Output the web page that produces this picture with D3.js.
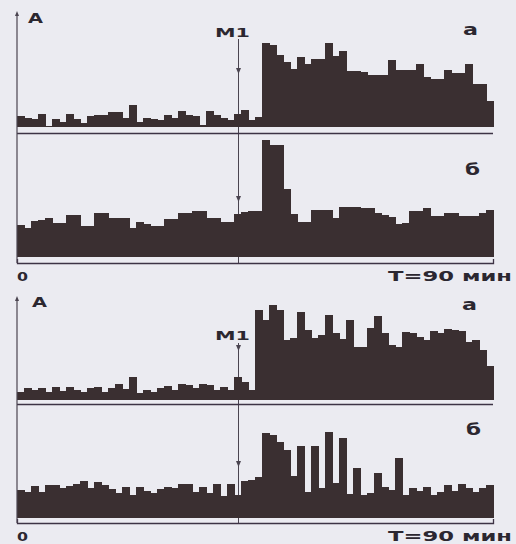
<!DOCTYPE html>
<html>
<head>
<meta charset="utf-8">
<script src="https://cdn.jsdelivr.net/npm/d3@7"></script>
<style>
  html, body { margin: 0; padding: 0; background: #ebebf1; }
  svg { display: block; }
</style>
</head>
<body>
<div id="chart"></div>
<script>
// Length of every record, minutes
const totalMinutes = 90;
// Time of the M1 event, minutes
const markerMinute = 41.7;

// Upper figure, trace "а" (counts per channel)
const fig1A = [11, 9, 8, 13, 1.5, 8, 5, 13, 8, 4, 11, 12, 12, 15, 15, 9, 22, 5, 9, 8,
  7, 12, 9, 16, 12, 11, 2, 16, 12, 9, 7, 13, 17, 7, 10,
  84, 82, 72, 65, 58, 70, 63, 68, 68, 84, 71, 76, 56, 56, 55, 52, 52, 52, 67, 57,
  57, 57, 63, 50, 48, 48, 57, 54, 54, 63, 43, 43, 26];
// Upper figure, trace "б"
const fig1B = [32, 29, 36, 37, 39, 34, 34, 42, 42, 31, 31, 44, 44, 39, 39, 39, 29, 35, 33, 31,
  31, 38, 38, 44, 44, 46, 46, 39, 39, 35, 35, 43, 45, 46, 46,
  117, 112, 112, 68, 43, 35, 35, 47, 47, 47, 39, 50, 50, 50, 49, 49, 44, 42, 40, 33,
  34, 46, 46, 49, 41, 41, 44, 44, 41, 41, 41, 44, 47];
// Lower figure, trace "а"
const fig2A = [8, 12, 10, 12, 8, 13, 9, 13, 10, 8, 12, 13, 8, 12, 16, 11, 23, 7, 10, 8,
  12, 14, 10, 16, 15, 12, 16, 15, 10, 13, 10, 23, 18, 10,
  90, 80, 95, 90, 60, 62, 88, 70, 62, 65, 85, 67, 61, 80, 53, 53, 72, 84, 67, 55,
  53, 68, 67, 63, 60, 69, 67, 71, 70, 69, 58, 60, 50, 34];
// Lower figure, trace "б"
const fig2B = [28, 26, 32, 26, 33, 33, 30, 32, 34, 37, 30, 36, 33, 29, 25, 31, 23, 31, 27, 25,
  29, 31, 30, 34, 34, 26, 31, 25, 34, 22, 34, 23, 37, 38, 41,
  85, 83, 76, 68, 42, 72, 26, 72, 30, 86, 35, 80, 24, 50, 23, 25, 45, 31, 28, 60,
  23, 30, 27, 31, 23, 26, 33, 27, 34, 30, 26, 30, 33];

const traceLabels = ["а", "б"];
const axisLabels = ["0", "T=90 мин"];
const yLabel = "A";
const markerLabel = "M1";

const W = 516, H = 544;
const ink = "#3a2f31";
const textInk = "#2b2730";
const font = "DejaVu Sans, sans-serif";

const svg = d3.select("#chart")
    .append("svg")
    .attr("width", W)
    .attr("height", H);

const x = d3.scaleLinear().domain([0, totalMinutes]).range([17, 493]);

// page layout of the two figures (pixel rows)
const figures = [
  { a: fig1A, b: fig1B, top: 11, baseA: 127, sep: 133.5, baseB: 257, axis: 263,
    textY: 281, aLabel: [28, 23], mLabelY: 37, mTop: 39, arrowA: 53, arrowB: 55,
    trA: [463, 35], trB: [465, 175] },
  { a: fig2A, b: fig2B, top: 296, baseA: 400, sep: 404.5, baseB: 518, axis: 523,
    textY: 541, aLabel: [32, 307], mLabelY: 340, mTop: 343, arrowA: 49, arrowB: 51,
    trA: [462, 310], trB: [466, 435] }
];

function drawBars(g, values, y) {
  const step = totalMinutes / values.length;
  g.selectAll("rect")
    .data(values)
    .enter()
    .append("rect")
    .attr("x", (d, i) => x(i * step))
    .attr("width", (d, i) => x((i + 1) * step) - x(i * step) + 0.6)
    .attr("y", d => y(d))
    .attr("height", d => y(0) - y(d))
    .attr("fill", ink)
    .attr("shape-rendering", "crispEdges");
}

function label(txt, px, py, size, len, anchor) {
  const t = svg.append("text")
    .attr("x", px)
    .attr("y", py)
    .attr("font-family", font)
    .attr("font-weight", "bold")
    .attr("font-size", size)
    .attr("fill", textInk)
    .attr("text-anchor", anchor || "start")
    .text(txt);
  if (len) t.attr("textLength", len).attr("lengthAdjust", "spacingAndGlyphs");
  return t;
}

figures.forEach(f => {
  const yA = d3.scaleLinear().domain([0, 120]).range([f.baseA, f.baseA - 120]);
  const yB = d3.scaleLinear().domain([0, 120]).range([f.baseB, f.baseB - 120]);

  // the M1 marker line goes behind the bars
  const mx = Math.round(x(markerMinute)) + 0.5;
  svg.append("line")
    .attr("x1", mx).attr("x2", mx)
    .attr("y1", f.mTop).attr("y2", f.axis)
    .attr("stroke", "#4a4450")
    .attr("stroke-width", 1);
  [yA(f.arrowA), yB(f.arrowB)].forEach(ty => {
    svg.append("path")
      .attr("d", `M${mx - 2.5},${ty - 6}L${mx + 2.5},${ty - 6}L${mx},${ty}Z`)
      .attr("fill", "#4a4450");
  });

  drawBars(svg.append("g"), f.a, yA);
  drawBars(svg.append("g"), f.b, yB);

  // separator between the two traces
  svg.append("line")
    .attr("x1", x(0)).attr("x2", x(totalMinutes))
    .attr("y1", f.sep).attr("y2", f.sep)
    .attr("stroke", "#3d3345")
    .attr("stroke-width", 1.3);

  // time axis
  svg.append("g")
    .attr("transform", `translate(0,${f.axis})`)
    .call(d3.axisBottom(x).tickValues([]).tickSizeOuter(-4))
    .call(g => g.select(".domain").attr("stroke", "#3d3345").attr("stroke-width", 1.3));

  // vertical axis with arrow
  svg.append("line")
    .attr("x1", x(0)).attr("x2", x(0))
    .attr("y1", f.top + 3).attr("y2", f.axis)
    .attr("stroke", "#4a4450")
    .attr("stroke-width", 1.2);
  svg.append("path")
    .attr("d", `M${x(0) - 2},${f.top + 5}L${x(0) + 2},${f.top + 5}L${x(0)},${f.top}Z`)
    .attr("fill", "#4a4450");

  label(yLabel, f.aLabel[0], f.aLabel[1], 14, 15);
  label(markerLabel, 232.5, f.mLabelY, 11.5, 35, "middle");
  label(traceLabels[0], f.trA[0], f.trA[1], 15, 15);
  label(traceLabels[1], f.trB[0], f.trB[1], 16, 15);
  label(axisLabels[0], 17, f.textY, 13, 11);
  label(axisLabels[1], 512, f.textY, 14.5, 124, "end");
});
</script>
</body>
</html>
